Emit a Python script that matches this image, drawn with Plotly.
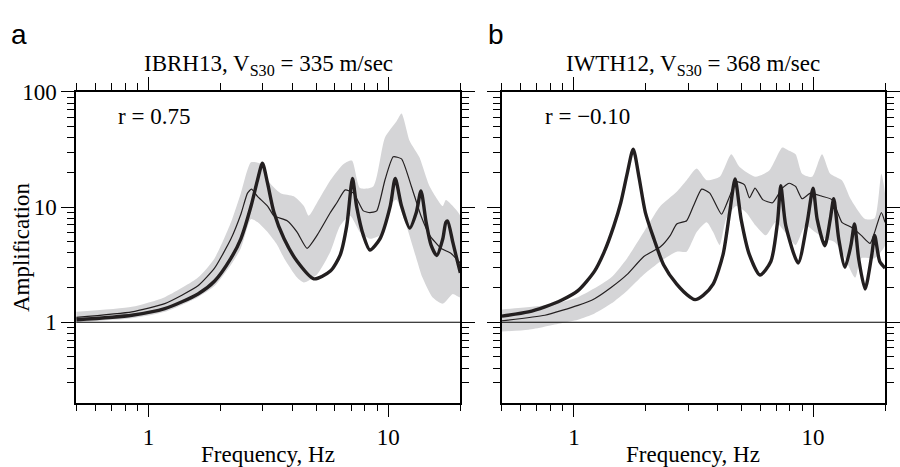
import plotly.graph_objects as go

# ---------------- data ----------------
# Panel a : IBRH13  -- model (thick), observed mean (thin), observed band (grey)
a_model_f = [0.5, 0.853, 1.17, 1.61, 1.89, 2.21, 2.43, 2.68, 2.85, 2.99, 3.14, 3.34, 3.68, 4.17,
             4.9, 5.74, 6.31, 6.72, 7.1, 7.38, 7.88, 8.39, 9.24, 10.2, 10.7, 11.37, 12.3,
             13.1, 13.7, 14.4, 15.1, 15.95, 16.9, 17.4, 17.7, 18.6, 19.3, 20]
a_model_A = [1.05, 1.15, 1.31, 1.76, 2.28, 3.6, 5.3, 10.2, 17.1, 24.0, 16.1, 8.96, 5.3, 3.38,
             2.38, 2.78, 3.85, 6.9, 17.7, 10.2, 5.68, 4.24, 5.3, 10.2, 17.7, 10.2, 6.56,
             8.96, 13.8, 7.37, 4.67, 3.79, 5.3, 7.37, 7.55, 4.95, 3.6, 2.68]

a_obs_f = [0.5, 0.853, 1.17, 1.61, 1.89, 2.21, 2.43, 2.59, 2.69, 2.85, 3.14, 3.34, 3.79, 4.17,
           4.59, 5.05, 5.74, 6.11, 6.62, 7.17, 7.88, 8.39, 8.96, 9.69, 10.5, 11.37, 12.5, 13.7,
           14.9, 16.6, 18.3, 20]
a_obs_A = [1.10, 1.23, 1.45, 2.07, 2.96, 5.3, 8.66, 13.2, 14.3, 12.4, 10.2, 8.4, 7.6, 6.06,
           4.38, 5.68, 8.96, 10.9, 14.1, 13.2, 9.26, 8.96, 9.26, 17.1, 27.3, 26.2, 15.1, 8.4,
           5.68, 4.38, 3.95, 3.25]

a_up_f = [0.5, 0.853, 1.17, 1.61, 1.89, 2.21, 2.43, 2.68, 2.94, 3.14, 3.56, 4.04, 4.45, 4.66,
          5.05, 5.74, 6.52, 7.06, 7.63, 8.66, 9.69, 10.8, 11.37, 12.3, 13.5, 14.9, 16.9, 17.4,
          19.2, 20]
a_up_A = [1.23, 1.36, 1.65, 2.44, 3.6, 7.37, 13.2, 24.5, 23.7, 17.1, 13.2, 12.4, 10.2, 8.4,
          10.9, 17.1, 23.7, 25.3, 14.6, 15.1, 40.0, 55.0, 65.0, 37.5, 27.0, 15.1, 10.2, 11.5,
          9.47, 8.3]

a_lo_f = [0.5, 0.853, 1.17, 1.61, 1.89, 2.21, 2.43, 2.68, 2.85, 3.14, 3.45, 3.68, 4.17, 4.45,
          5.05, 5.74, 6.31, 6.94, 7.63, 8.39, 9.24, 10.2, 10.8, 11.9, 13.1, 13.9, 15.3, 16.9,
          18.6, 20]
a_lo_A = [1.0, 1.08, 1.23, 1.65, 2.07, 3.16, 4.38, 7.86, 7.4, 6.06, 4.67, 3.6, 2.44, 2.21,
          2.6, 4.1, 6.9, 8.4, 6.06, 5.3, 5.68, 10.2, 11.6, 6.9, 3.6, 2.44, 1.65, 1.45,
          1.76, 1.65]

# Panel b : IWTH12
b_model_f = [0.5, 0.645, 0.756, 0.886, 1.04, 1.22, 1.34, 1.47, 1.57, 1.67, 1.77, 1.87, 1.99, 2.16,
             2.37, 2.69, 3.06, 3.21, 3.47, 3.82, 4.2, 4.48, 4.72, 5.0, 5.42, 6.0, 6.66, 7.1, 7.33,
             7.69, 8.66, 9.45, 10.0, 10.4, 11.2, 11.8, 12.2, 12.8, 13.6, 14.4, 14.9, 15.5, 16.5,
             17.6, 18.1, 19.0, 20]
b_model_A = [1.13, 1.23, 1.36, 1.55, 1.88, 2.78, 4.1, 6.9, 10.9, 19.5, 31.8, 18.3, 8.96, 5.3,
             3.16, 2.14, 1.65, 1.57, 1.71, 2.14, 3.84, 8.96, 17.5, 7.86, 3.84, 2.57, 3.37, 7.37, 15.3,
             6.9, 3.27, 7.37, 14.6, 7.86, 4.61, 7.86, 11.8, 5.3, 3.0, 4.67, 7.13, 3.6, 1.94,
             3.84, 5.68, 3.37, 2.96]

b_obs_f = [0.5, 0.756, 1.04, 1.22, 1.43, 1.67, 1.96, 2.3, 2.53, 2.69, 2.96, 3.16, 3.42, 3.7, 4.14,
           4.48, 4.77, 5.17, 5.42, 5.72, 6.16, 6.77, 7.44, 7.94, 8.45, 9.0, 9.75, 10.9, 12.0, 13.2,
           14.4, 15.9, 17.3, 18.1, 19.3, 20]
b_obs_A = [1.03, 1.15, 1.40, 1.60, 2.0, 2.6, 3.72, 4.52, 5.68, 7.13, 7.6, 10.2, 14.3, 13.2, 8.66,
           12.4, 16.6, 15.6, 12.0, 14.6, 11.6, 10.9, 14.6, 16.1, 15.1, 11.8, 13.2, 12.4, 11.6, 7.37,
           6.7, 5.68, 4.83, 6.06, 8.96, 7.37]

b_up_f = [0.5, 0.756, 1.04, 1.43, 1.67, 1.96, 2.3, 2.69, 2.96, 3.26, 3.59, 4.07, 4.55, 4.93, 5.75,
          6.56, 7.44, 7.94, 8.45, 9.0, 9.9, 10.9, 11.8, 13.2, 14.4, 16.5, 18.1, 19.3, 20]
b_up_A = [1.29, 1.40, 1.65, 2.44, 3.6, 6.06, 10.2, 13.6, 17.1, 21.6, 17.1, 18.3, 28.8, 22.3, 18.3,
          20.8, 32.9, 30.8, 28.8, 19.5, 18.3, 28.8, 19.5, 17.1, 11.6, 7.86, 8.0, 19.5, 13.2]

b_lo_f = [0.5, 0.645, 0.886, 1.04, 1.22, 1.43, 1.67, 1.96, 2.3, 2.69, 2.96, 3.26, 3.59, 3.82, 4.07,
          4.33, 4.77, 5.25, 5.75, 6.35, 6.98, 7.63, 8.45, 9.3, 10.2, 11.2, 12.3, 13.2, 15.0, 15.9,
          18.1, 20]
b_lo_A = [0.83, 0.86, 0.98, 1.05, 1.19, 1.45, 1.88, 2.6, 3.37, 4.1, 4.1, 6.06, 7.37, 6.06, 4.67,
          7.86, 10.2, 8.96, 6.9, 5.68, 7.37, 6.06, 4.67, 6.9, 6.06, 5.3, 4.98, 4.1, 2.44, 3.6,
          3.6, 4.67]

titles = ["IBRH13, V<sub>S30</sub> = 335 m/sec", "IWTH12, V<sub>S30</sub> = 368 m/sec"]
r_labels = ["r = 0.75", "r = \u22120.10"]
panel_letters = ["a", "b"]
x_ticks = [1, 10]
x_minor = [0.5, 0.6, 0.7, 0.8, 0.9, 2, 3, 4, 5, 6, 7, 8, 9, 20]
y_ticks = [1, 10, 100]
y_minor = [0.3, 0.4, 0.5, 0.6, 0.7, 0.8, 0.9, 2, 3, 4, 5, 6, 7, 8, 9, 20, 30, 40, 50, 60, 70, 80, 90]

# ---------------- figure ----------------
W, H = 900, 467
SERIF = "Liberation Serif, Times New Roman, serif"
SANS = "Liberation Sans, Arial, sans-serif"
BAND = "#d5d5d7"
INK = "#231f20"

fig = go.Figure()

panels = [
    (a_up_f, a_up_A, a_lo_f, a_lo_A, a_obs_f, a_obs_A, a_model_f, a_model_A),
    (b_up_f, b_up_A, b_lo_f, b_lo_A, b_obs_f, b_obs_A, b_model_f, b_model_A),
]
xdoms = [(77 / W, 465 / W), (507 / W, 894 / W)]
ydom = (1 - 401 / H, 1 - 82 / H)

for i, (uf, ua, lf, la, of, oa, mf, ma) in enumerate(panels):
    xa = "x" if i == 0 else "x2"
    ya = "y" if i == 0 else "y2"
    fig.add_trace(go.Scatter(x=uf + lf[::-1], y=ua + la[::-1], fill="toself", fillcolor=BAND,
                             line=dict(width=0, color=BAND, shape="spline", smoothing=0.6),
                             mode="lines", hoverinfo="skip",
                             showlegend=False, xaxis=xa, yaxis=ya))
    fig.add_trace(go.Scatter(x=of, y=oa, mode="lines",
                             line=dict(color=INK, width=1.2, shape="spline", smoothing=0.5),
                             showlegend=False, xaxis=xa, yaxis=ya))
    fig.add_trace(go.Scatter(x=mf, y=ma, mode="lines",
                             line=dict(color=INK, width=3.4, shape="spline", smoothing=0.7),
                             showlegend=False, xaxis=xa, yaxis=ya))

axis_common = dict(
    type="log", showgrid=False, zeroline=False, showline=True, linecolor="black", linewidth=1.6,
    mirror="allticks", ticks="outside", ticklen=13, tickwidth=1.3, tickcolor="black",
    tickfont=dict(family=SERIF, size=23, color="black"),
)
for i in range(2):
    sfx = "" if i == 0 else "2"
    fig.layout["xaxis" + sfx] = dict(
        axis_common, domain=list(xdoms[i]), range=[-0.30103, 1.30103], anchor="y" + sfx,
        tickmode="array", tickvals=x_ticks, ticktext=[str(v) for v in x_ticks],
        minor=dict(tickmode="array", tickvals=x_minor, ticks="outside", ticklen=7,
                   tickwidth=1.1, tickcolor="black"),
    )
    fig.layout["yaxis" + sfx] = dict(
        axis_common, domain=list(ydom), range=[-0.69897, 2.0], anchor="x" + sfx,
        tickmode="array", tickvals=y_ticks, ticktext=[str(v) for v in y_ticks],
        showticklabels=(i == 0),
        minor=dict(tickmode="array", tickvals=y_minor, ticks="outside", ticklen=7,
                   tickwidth=1.1, tickcolor="black"),
    )
    # reference line at amplification 1
    fig.add_shape(type="line", xref="x" + sfx + " domain", yref="y" + sfx,
                  x0=0, x1=1, y0=1, y1=1, line=dict(color="black", width=1.1))
    cx = (xdoms[i][0] + xdoms[i][1]) / 2
    fig.add_annotation(text=titles[i], x=cx, y=1 - 54 / H, xref="paper", yref="paper",
                       showarrow=False, xanchor="center", yanchor="middle",
                       font=dict(family=SERIF, size=23, color="black"))
    fig.add_annotation(text="Frequency, Hz", x=cx, y=1 - 454 / H, xref="paper", yref="paper",
                       showarrow=False, xanchor="center", yanchor="middle",
                       font=dict(family=SERIF, size=23, color="black"))
    fig.add_annotation(text=r_labels[i], x=(117 if i == 0 else 548) / W, y=1 - 107 / H,
                       xref="paper", yref="paper", showarrow=False, xanchor="left",
                       yanchor="middle", font=dict(family=SERIF, size=23, color="black"))
    fig.add_annotation(text=panel_letters[i], x=(9 if i == 0 else 491) / W, y=1 - 23 / H,
                       xref="paper", yref="paper", showarrow=False, xanchor="left",
                       yanchor="middle", font=dict(family=SANS, size=28, color="black"))

fig.add_annotation(text="Amplification", x=22 / W, y=(ydom[0] + ydom[1]) / 2, xref="paper",
                   yref="paper", showarrow=False, textangle=-90, xanchor="center",
                   yanchor="middle", font=dict(family=SERIF, size=23, color="black"))

fig.update_layout(width=W, height=H, margin=dict(l=0, r=0, t=0, b=0),
                  paper_bgcolor="white", plot_bgcolor="white", showlegend=False)

fig.write_html("out.html")
